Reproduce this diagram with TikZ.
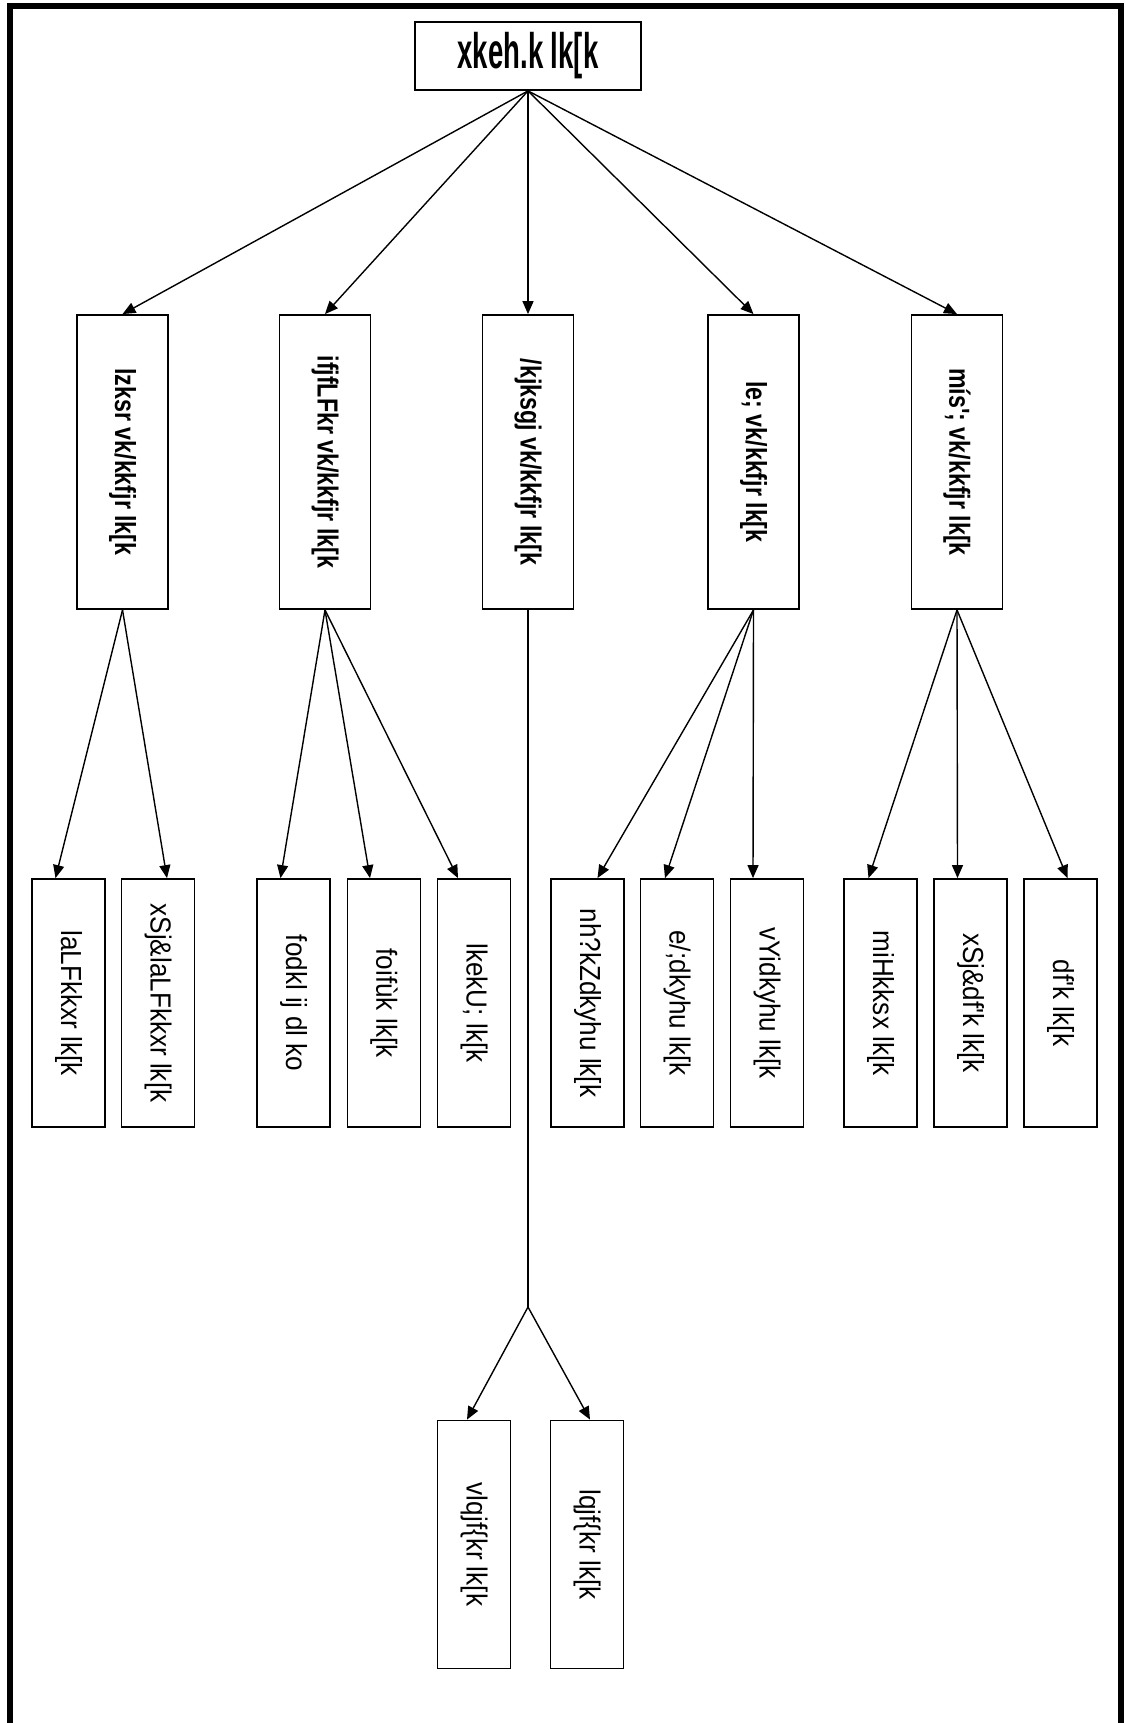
\documentclass[tikz,border=0pt]{standalone}
\usepackage{fontspec}
\newfontfamily\krtop[FakeStretch=0.55]{Liberation Sans}
\newfontfamily\krmid[FakeStretch=0.8]{Liberation Sans}
\newfontfamily\krlow[FakeStretch=0.9]{Liberation Sans}
\usetikzlibrary{arrows.meta}
\begin{document}
\begin{tikzpicture}[x=1pt,y=-1pt,
  topbox/.style={draw, line width=1.8pt, minimum width=226pt, minimum height=68pt, inner sep=0pt, font=\krtop\bfseries\fontsize{50}{56}\selectfont},
  midbox/.style={draw, line width=1.8pt, minimum width=91pt, minimum height=294pt, inner sep=0pt, font=\krmid\bfseries\fontsize{29}{34}\selectfont},
  lowbox/.style={draw, line width=1.8pt, minimum width=73pt, minimum height=248pt, inner sep=0pt, font=\krlow\fontsize{29}{34}\selectfont},
  link/.style={line width=1.4pt, -{Triangle[length=13pt,width=11pt]}}]
\useasboundingbox (0,0) rectangle (1126,1723);
\draw [line width=6pt] (10,1723) -- (10,6) -- (1121,6) -- (1121,1723);
\node [topbox] (top) at (528,56) {xkeh.k lk[k};
\node [midbox] (m1) at (122.5,462) {\rotatebox{-90}{lzksr vk/kkfjr lk[k}};
\node [midbox] (m2) at (325,462) {\rotatebox{-90}{ifjfLFkr vk/kkfjr lk[k}};
\node [midbox] (m3) at (528,462) {\rotatebox{-90}{/kjksgj vk/kkfjr lk[k}};
\node [midbox] (m4) at (753.5,462) {\rotatebox{-90}{le; vk/kkfjr lk[k}};
\node [midbox] (m5) at (957,462) {\rotatebox{-90}{mís'; vk/kkfjr lk[k}};
\node [lowbox] (c1) at (68.5,1003) {\rotatebox{-90}{laLFkkxr lk[k}};
\node [lowbox] (c2) at (158,1003) {\rotatebox{-90}{xSj\&laLFkkxr lk[k}};
\node [lowbox] (c3) at (293.5,1003) {\rotatebox{-90}{fodkl ij dl ko}};
\node [lowbox] (c4) at (384,1003) {\rotatebox{-90}{foifùk lk[k}};
\node [lowbox] (c5) at (474,1003) {\rotatebox{-90}{lkekU; lk[k}};
\node [lowbox] (c6) at (587.5,1003) {\rotatebox{-90}{nh?kZdkyhu lk[k}};
\node [lowbox] (c7) at (677,1003) {\rotatebox{-90}{e/;dkyhu lk[k}};
\node [lowbox] (c8) at (767,1003) {\rotatebox{-90}{vYidkyhu lk[k}};
\node [lowbox] (c9) at (880.5,1003) {\rotatebox{-90}{miHkksx lk[k}};
\node [lowbox] (c10) at (970.5,1003) {\rotatebox{-90}{xSj\&df'k lk[k}};
\node [lowbox] (c11) at (1060.5,1003) {\rotatebox{-90}{df'k lk[k}};
\node [lowbox] (d1) at (474,1544.5) {\rotatebox{-90}{vlqjf\{kr lk[k}};
\node [lowbox] (d2) at (587,1544.5) {\rotatebox{-90}{lqjf\{kr lk[k}};
\coordinate (split) at (528,1307);
\draw [link] (top.south) -- (m1.north);
\draw [link] (top.south) -- (m2.north);
\draw [link] (top.south) -- (m3.north);
\draw [link] (top.south) -- (m4.north);
\draw [link] (top.south) -- (m5.north);
\draw [link] (m1.south) -- ([xshift=-13pt]c1.north);
\draw [link] (m1.south) -- ([xshift=9pt]c2.north);
\draw [link] (m2.south) -- ([xshift=-13pt]c3.north);
\draw [link] (m2.south) -- ([xshift=-14pt]c4.north);
\draw [link] (m2.south) -- ([xshift=-16pt]c5.north);
\draw [link] (m4.south) -- ([xshift=10pt]c6.north);
\draw [link] (m4.south) -- ([xshift=-12pt]c7.north);
\draw [link] (m4.south) -- ([xshift=-14pt]c8.north);
\draw [link] (m5.south) -- ([xshift=-12pt]c9.north);
\draw [link] (m5.south) -- ([xshift=-13pt]c10.north);
\draw [link] (m5.south) -- ([xshift=7pt]c11.north);
\draw [line width=1.4pt] (m3.south) -- (split);
\draw [link] (split) -- ([xshift=-7pt]d1.north);
\draw [link] (split) -- ([xshift=3pt]d2.north);
\end{tikzpicture}
\end{document}
